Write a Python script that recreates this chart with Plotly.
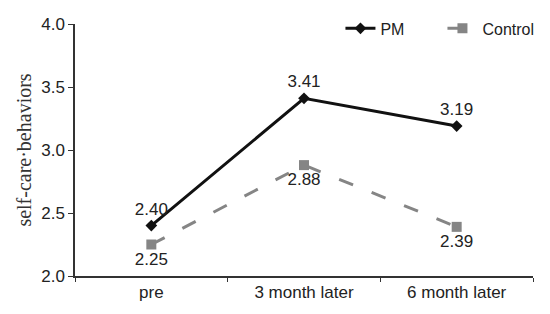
import plotly.graph_objects as go

categories = ["pre", "3 month later", "6 month later"]
pm_values = [2.40, 3.41, 3.19]
control_values = [2.25, 2.88, 2.39]
pm_labels = ["2.40", "3.41", "3.19"]
control_labels = ["2.25", "2.88", "2.39"]

label_font = dict(family="Liberation Sans, Arial", size=17, color="#222222")

fig = go.Figure()
fig.add_trace(go.Scatter(
    x=categories, y=pm_values, name="PM", mode="lines+markers+text",
    line=dict(color="#111111", width=3),
    marker=dict(symbol="diamond", size=9, color="#111111"),
    text=pm_labels, textposition="top center", textfont=label_font,
))
fig.add_trace(go.Scatter(
    x=categories, y=control_values, name="Control", mode="lines+markers+text",
    line=dict(color="#858585", width=3, dash="15px,20px"),
    marker=dict(symbol="square", size=10, color="#858585"),
    text=control_labels, textposition="bottom center", textfont=label_font,
))

# page body has an 8px margin, so the figure is 8px smaller than the window
fig.update_layout(
    width=542, height=306,
    margin=dict(l=67, r=17, t=16, b=38, autoexpand=False),
    paper_bgcolor="white", plot_bgcolor="white",
    font=dict(family="Liberation Sans, Arial", size=17, color="#222222"),
    legend=dict(orientation="h", x=1.025, xanchor="right", y=1.05, yanchor="top",
                entrywidth=57, font=dict(size=16), bgcolor="rgba(0,0,0,0)"),
    showlegend=True,
)
fig.update_xaxes(
    type="category", range=[-0.5, 2.5], tickson="boundaries",
    ticks="outside", ticklen=4, tickcolor="#333333",
    showline=True, linecolor="#333333", linewidth=1.5, showgrid=False,
    tickfont=dict(size=17), automargin=False,
)
fig.update_yaxes(
    range=[2.0, 4.0], dtick=0.5, tickformat=".1f",
    ticks="outside", ticklen=5, tickcolor="#333333",
    showline=True, linecolor="#333333", linewidth=1.5, showgrid=False,
    zeroline=False, tickfont=dict(size=17), automargin=False,
    title=dict(text="self-care·behaviors", standoff=4,
               font=dict(family="Liberation Serif, Times New Roman", size=20, color="#333333")),
)

fig.write_html("out.html")
